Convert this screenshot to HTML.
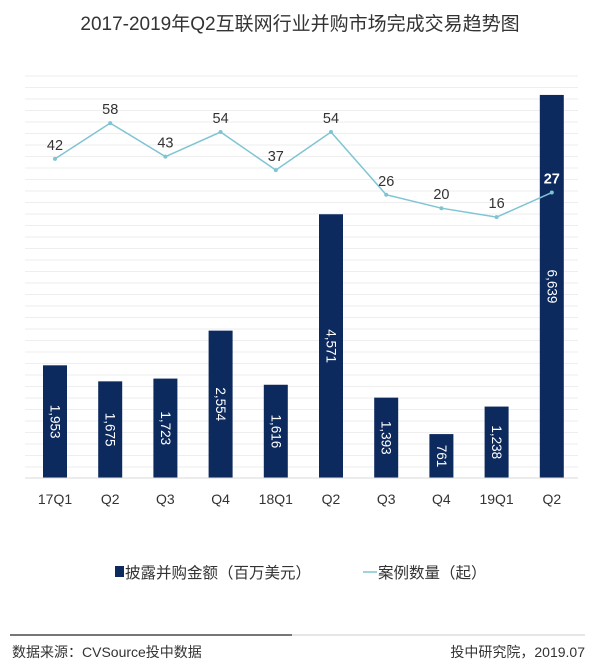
<!DOCTYPE html>
<html><head><meta charset="utf-8"><style>
body{margin:0;background:#fff;width:600px;height:667px;overflow:hidden;font-family:"Liberation Sans","Noto Sans CJK SC",sans-serif;}
svg text{font-family:"Liberation Sans","Noto Sans CJK SC",sans-serif;}
</style></head><body>
<svg id="chart" width="600" height="667">
<text x="300" y="30" text-anchor="middle" font-size="19" fill="#333">2017-2019年Q2互联网行业并购市场完成交易趋势图</text>
<g id="grid"></g><g id="bars"></g><g id="line"></g><g id="xaxis"></g>
<g>
<rect x="115" y="566" width="9" height="11" fill="#0d2a5e"/>
<text x="125" y="578" font-size="15.5" fill="#333">披露并购金额（百万美元）</text>
<line x1="363" y1="572" x2="377" y2="572" stroke="#7fc4d3" stroke-width="1.5"/>
<text x="378" y="578" font-size="15.5" fill="#333">案例数量（起）</text>
</g>
<line x1="10" y1="635" x2="292" y2="635" stroke="#777" stroke-width="2"/>
<line x1="292" y1="635" x2="585" y2="635" stroke="#ddd" stroke-width="1.5"/>
<text x="12" y="657" font-size="14" fill="#333">数据来源：CVSource投中数据</text>
<text x="585" y="657" font-size="14" fill="#333" text-anchor="end">投中研究院，2019.07</text>
</svg>
<script>
const categories=["17Q1","Q2","Q3","Q4","18Q1","Q2","Q3","Q4","19Q1","Q2"];
const amounts=[1953,1675,1723,2554,1616,4571,1393,761,1238,6639];
const amountLabels=["1,953","1,675","1,723","2,554","1,616","4,571","1,393","761","1,238","6,639"];
const counts=[42,58,43,54,37,54,26,20,16,27];
const NS="http://www.w3.org/2000/svg";
function mk(t,a,p){const e=document.createElementNS(NS,t);for(const k in a)e.setAttribute(k,a[k]);p.appendChild(e);return e;}
const base=478;
const xPos=i=>55+i*55.2;
const yBar=v=>base-v*0.0577;
const yLine=v=>253-v*2.24;
const grid=document.getElementById('grid');
for(let y=76;y<base;y+=11.5){const l=mk('line',{x1:25,x2:578,y1:y,y2:y,stroke:'#eeeeee','stroke-width':1},grid);

}
const xa=document.getElementById('xaxis');
const ax=mk('line',{x1:25,x2:578,y1:base,y2:base,stroke:'#d9d9d9','stroke-width':1},xa);


const bars=document.getElementById('bars');
categories.forEach((c,i)=>{
 const x=xPos(i),t=yBar(amounts[i]);
 const r=mk('rect',{x:x-12,y:t,width:24,height:base-t,fill:'#0d2a5e'},bars);
 
 
 const cy=(t+base)/2;
 const tl=mk('text',{x:x,y:cy,'font-size':13.5,fill:'#fff','text-anchor':'middle','dominant-baseline':'central',transform:`rotate(90 ${x} ${cy})`},bars);
 tl.textContent=amountLabels[i];
 
 
 const xl=mk('text',{x:x,y:504,'font-size':14,fill:'#333','text-anchor':'middle'},xa);
 xl.textContent=c;
 
 
});
const lg=document.getElementById('line');
const pts=counts.map((v,i)=>xPos(i)+','+yLine(v)).join(' ');
const pl=mk('polyline',{points:pts,fill:'none',stroke:'#7fc4d3','stroke-width':1.5},lg);


counts.forEach((v,i)=>{
 const x=xPos(i),y=yLine(v);
 const c=mk('circle',{cx:x,cy:y,r:2,fill:'#7fc4d3'},lg);
 
 
 const onBar=yBar(amounts[i])<y-10;
 const t=mk('text',{x:x,y:y-9,'font-size':14.5,fill:onBar?'#fff':'#333','font-weight':onBar?'bold':'normal','text-anchor':'middle'},lg);
 t.textContent=v;
 
 
});
</script>
</body></html>
